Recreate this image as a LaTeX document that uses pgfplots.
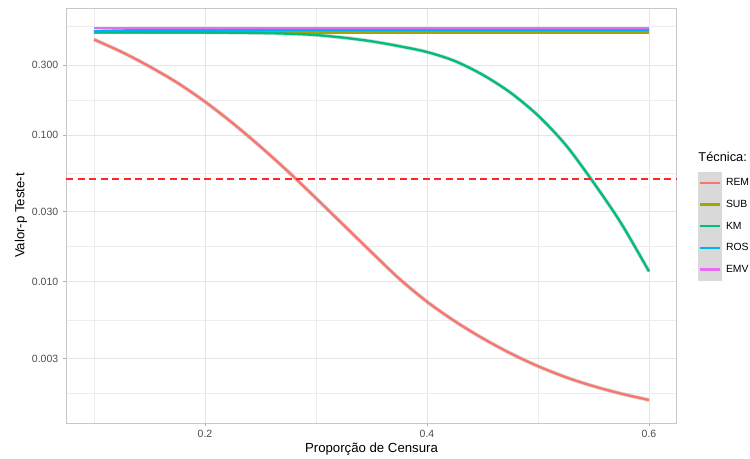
\documentclass[border=0pt]{standalone}
\usepackage{fontspec}
\setmainfont{Liberation Sans}
\usepackage{pgfplots}
\pgfplotsset{compat=1.18}
\usepackage{pgfplotstable}
\definecolor{cREM}{HTML}{F8766D}
\definecolor{cSUB}{HTML}{A3A500}
\definecolor{cKM}{HTML}{00BF7D}
\definecolor{cROS}{HTML}{00B0F6}
\definecolor{cEMV}{HTML}{E76BF3}
\definecolor{tickgrey}{HTML}{4D4D4D}

\pgfplotstableread{
x y
0.100 0.4476
0.125 0.3679
0.150 0.2930
0.175 0.2272
0.200 0.1686
0.225 0.1203
0.250 0.0832
0.275 0.05620
0.300 0.03708
0.325 0.02427
0.350 0.01589
0.375 0.01048
0.400 0.007305
0.425 0.005378
0.450 0.004119
0.475 0.003254
0.500 0.002654
0.525 0.002233
0.550 0.001939
0.575 0.001724
0.600 0.001561
}\remdata

\pgfplotstableread{
x y
0.100 0.5037
0.150 0.5030
0.200 0.5012
0.250 0.4957
0.275 0.4903
0.300 0.4803
0.325 0.4605
0.350 0.4352
0.375 0.4030
0.400 0.3679
0.425 0.3194
0.450 0.2576
0.475 0.1949
0.500 0.1358
0.525 0.0855
0.550 0.04745
0.575 0.02493
0.600 0.01174
}\kmdata

\pgfplotstableread{
x y
0.100 0.4981
0.350 0.4981
0.600 0.4981
}\subdata

\pgfplotstableread{
x y
0.100 0.5090
0.150 0.5180
0.350 0.5197
0.600 0.5197
}\rosdata

\pgfplotstableread{
x y
0.100 0.5380
0.350 0.5380
0.600 0.5380
}\emvdata

\begin{document}
\begin{tikzpicture}
\begin{axis}[
  name=ax,
  scale only axis,
  width=610.5pt, height=415pt,
  xmin=0.075, xmax=0.625,
  ymode=log,
  ymin=0.001088, ymax=0.7339,
  xtick={0.2,0.4,0.6},
  xticklabels={\mbox{0.2},\mbox{0.4},\mbox{0.6}},
  minor xtick={0.1,0.3,0.5},
  ytick={0.003,0.01,0.03,0.1,0.3},
  yticklabels={\mbox{0.003},\mbox{0.010},\mbox{0.030},\mbox{0.100},\mbox{0.300}},
  minor ytick={0.001732,0.005477,0.01732,0.05477,0.1732,0.5477},
  grid=both,
  major grid style={draw=black!10, line width=0.9pt},
  minor grid style={draw=black!7, line width=0.6pt},
  axis line style={draw=black!22, line width=0.9pt},
  tick align=outside,
  major tick length=3.5pt,
  minor tick length=0pt,
  tick style={draw=black!30, line width=0.8pt},
  xtick pos=bottom, ytick pos=left,
  ticklabel style={font=\fontsize{10.5}{12}\selectfont, text=tickgrey},
  yticklabel style={xshift=-1pt},
  xticklabel style={yshift=-0.5pt},
  xlabel={Proporção de Censura},
  ylabel={Valor-p Teste-t},
  label style={font=\fontsize{13.2}{15}\selectfont, text=black},
  xlabel style={at={(axis description cs:0.5,-0.0627)}, anchor=center},
  ylabel style={at={(axis description cs:-0.0742,0.5)}, anchor=center, rotate=0},
  legend style={at={(axis description cs:1.0348,0.6048)}, anchor=north west,
    draw=none, fill=none, inner sep=0pt, outer sep=0pt, row sep=0pt,
    font=\fontsize{10.4}{12}\selectfont,
    nodes={inner xsep=4pt, inner ysep=0pt}},
  legend cell align=left,
  legend image code/.code={\fill[fill=black!15, draw=none, overlay] (0pt,-10.85pt) rectangle (24pt,10.85pt);
    \path[draw=none, fill=none] (0pt,-10.85pt) rectangle (24pt,10.85pt);
    \draw[#1] (2pt,0pt) -- (22pt,0pt);},
  every axis plot/.append style={line cap=butt},
]
% confidence halos
\addplot[forget plot, draw=black!45, opacity=0.3, line width=4.0pt, smooth] table {\remdata};
\addplot[forget plot, draw=black!45, opacity=0.3, line width=3.9pt, smooth] table {\kmdata};
\addplot[forget plot, draw=black!45, opacity=0.25, line width=3.5pt, smooth] table {\rosdata};

\addplot[cREM, line width=2.4pt, smooth] table {\remdata};
\addlegendentry{REM}
\addplot[cSUB, line width=2.4pt, smooth] table {\subdata};
\addlegendentry{SUB}
\addplot[cKM, line width=2.4pt, smooth] table {\kmdata};
\addlegendentry{KM}
\addplot[cROS, line width=2.4pt, smooth] table {\rosdata};
\addlegendentry{ROS}
\addplot[cEMV, line width=2.4pt, smooth] table {\emvdata};
\addlegendentry{EMV}

\addplot[forget plot, draw=red!85, line width=1.3pt, dash pattern=on 7pt off 4.5pt] coordinates {(0.075,0.05) (0.625,0.05)};
\end{axis}
\node[anchor=west, font=\fontsize{12.8}{15}\selectfont, inner sep=0pt] at ([shift={(21.5pt,-149pt)}]ax.north east) {Técnica:};
\pgfresetboundingbox
\path ([shift={(-66.25pt,-36pt)}]ax.south west) rectangle ([shift={(73.25pt,8pt)}]ax.north east);
\end{tikzpicture}
\end{document}
